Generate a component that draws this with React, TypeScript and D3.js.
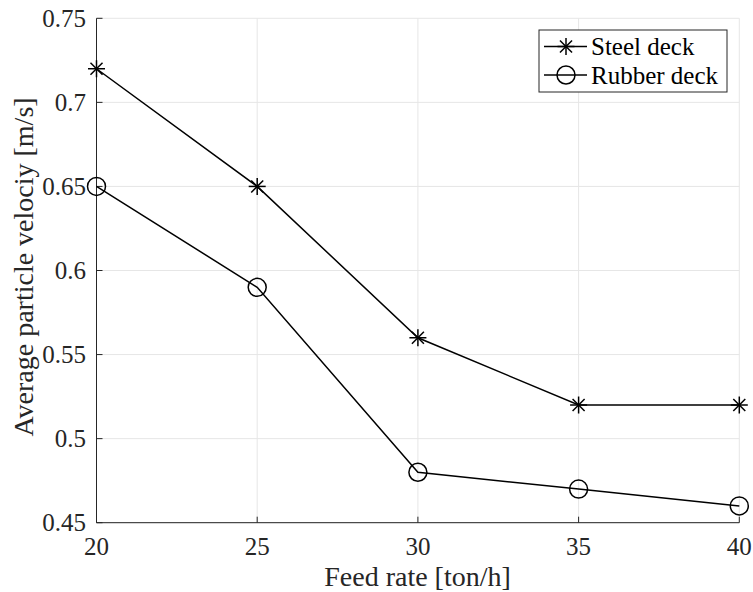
import React from "react";
import * as d3 from "d3";

const feedRates = [20, 25, 30, 35, 40];
const steelDeck = [0.72, 0.65, 0.56, 0.52, 0.52];
const rubberDeck = [0.65, 0.59, 0.48, 0.47, 0.46];
const xTicks = [20, 25, 30, 35, 40];
const yTicks = [0.45, 0.5, 0.55, 0.6, 0.65, 0.7, 0.75];
const seriesNames = ["Steel deck", "Rubber deck"];
const xLabel = "Feed rate [ton/h]";
const yLabel = "Average particle velociy [m/s]";

const W = 753;
const H = 592;
const M = { left: 96.5, right: 739.3, top: 18.3, bottom: 522.7 };
const FONT = "'Liberation Serif', 'Times New Roman', serif";
const AX = "#262626";
const TS = { fontFamily: FONT, fontSize: "25px" } as React.CSSProperties;
const LS = { fontFamily: FONT, fontSize: "28px" } as React.CSSProperties;

function Star({ x, y, s = 8.5 }: { x: number; y: number; s?: number }) {
  const d = s * 0.7071;
  return (
    <g stroke="#000" strokeWidth={1.5}>
      <line x1={x - s} y1={y} x2={x + s} y2={y} />
      <line x1={x} y1={y - s} x2={x} y2={y + s} />
      <line x1={x - d} y1={y - d} x2={x + d} y2={y + d} />
      <line x1={x - d} y1={y + d} x2={x + d} y2={y - d} />
    </g>
  );
}

function Circ({ x, y }: { x: number; y: number }) {
  return <circle cx={x} cy={y} r={9} fill="none" stroke="#000" strokeWidth={1.5} />;
}

export default function App() {
  const x = d3.scaleLinear().domain([20, 40]).range([M.left, M.right]);
  const y = d3.scaleLinear().domain([0.45, 0.75]).range([M.bottom, M.top]);
  const line = d3
    .line<number>()
    .x((_, i) => x(feedRates[i]))
    .y((d) => y(d));

  const lx1 = 544, lx2 = 587, lmx = 566, ltx = 591;
  const ly = [46.5, 75];

  return (
    <svg
      width={W}
      height={H}
      style={{ position: "absolute", left: 0, top: 0, background: "#fff" }}
    >
      {xTicks.map((t) => (
        <line key={"gx" + t} x1={x(t)} x2={x(t)} y1={M.top} y2={M.bottom} stroke="#e6e6e6" strokeWidth={1} />
      ))}
      {yTicks.map((t) => (
        <line key={"gy" + t} x1={M.left} x2={M.right} y1={y(t)} y2={y(t)} stroke="#e6e6e6" strokeWidth={1} />
      ))}
      <line x1={M.left} x2={M.left} y1={M.top} y2={M.bottom} stroke={AX} strokeWidth={1} />
      <line x1={M.left} x2={M.right} y1={M.bottom} y2={M.bottom} stroke={AX} strokeWidth={1} />
      {xTicks.map((t) => (
        <g key={"xt" + t}>
          <line x1={x(t)} x2={x(t)} y1={M.bottom} y2={M.bottom - 6} stroke={AX} />
          <text x={x(t)} y={555} textAnchor="middle" style={TS} fill={AX}>
            {t}
          </text>
        </g>
      ))}
      {yTicks.map((t) => (
        <g key={"yt" + t}>
          <line x1={M.left} x2={M.left + 6} y1={y(t)} y2={y(t)} stroke={AX} />
          <text x={86} y={y(t)} dy="0.34em" textAnchor="end" style={TS} fill={AX}>
            {String(t)}
          </text>
        </g>
      ))}
      <text x={417.5} y={586} textAnchor="middle" style={LS} fill={AX}>
        {xLabel}
      </text>
      <text
        transform="translate(33, 267) rotate(-90)"
        textAnchor="middle"
        style={LS}
        fill={AX}
      >
        {yLabel}
      </text>
      <path d={line(steelDeck) || ""} fill="none" stroke="#000" strokeWidth={1.5} />
      <path d={line(rubberDeck) || ""} fill="none" stroke="#000" strokeWidth={1.5} />
      {steelDeck.map((v, i) => (
        <Star key={"s" + i} x={x(feedRates[i])} y={y(v)} />
      ))}
      {rubberDeck.map((v, i) => (
        <Circ key={"r" + i} x={x(feedRates[i])} y={y(v)} />
      ))}
      <rect x={539} y={30} width={188} height={62} fill="#fff" stroke={AX} strokeWidth={1} />
      <line x1={lx1} x2={lx2} y1={ly[0]} y2={ly[0]} stroke="#000" strokeWidth={1.5} />
      <Star x={lmx} y={ly[0]} />
      <text x={ltx} y={ly[0]} dy="0.34em" style={TS} fill="#000">
        {seriesNames[0]}
      </text>
      <line x1={lx1} x2={lx2} y1={ly[1]} y2={ly[1]} stroke="#000" strokeWidth={1.5} />
      <Circ x={lmx} y={ly[1]} />
      <text x={ltx} y={ly[1]} dy="0.34em" style={TS} fill="#000">
        {seriesNames[1]}
      </text>
    </svg>
  );
}
